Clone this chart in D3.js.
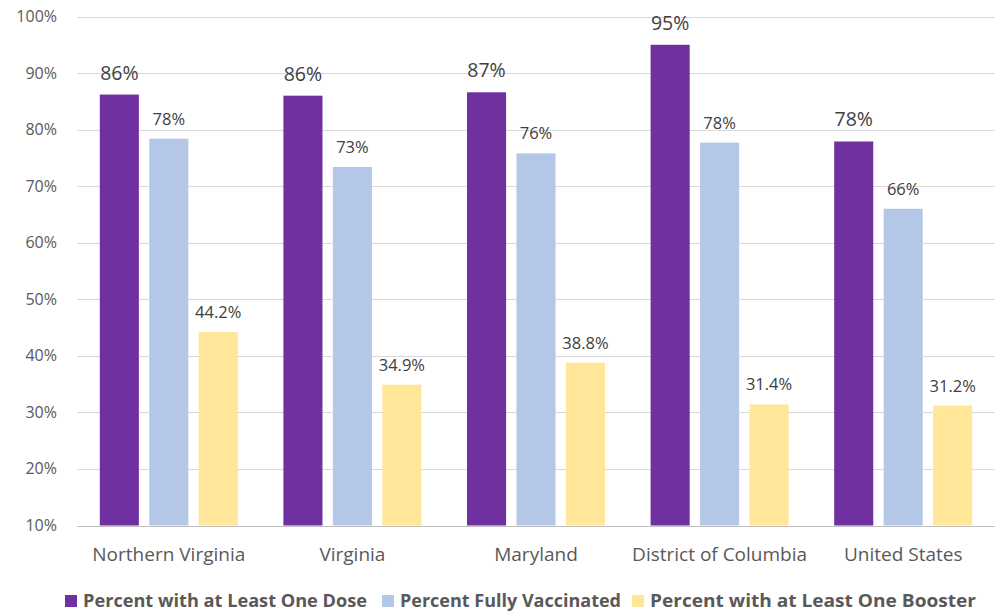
<!DOCTYPE html>
<html>
<head>
<meta charset="utf-8">
<script src="https://cdn.jsdelivr.net/npm/d3@7"></script>
<style>
  body { margin: 0; background: #fff; }
  text { font-family: "Open Sans", sans-serif; fill: #595959; }
</style>
</head>
<body>
<div id="chart"></div>
<script>
'use strict';

const categories = ['Northern Virginia', 'Virginia', 'Maryland', 'District of Columbia', 'United States'];
const seriesNames = ['Percent with at Least One Dose', 'Percent Fully Vaccinated', 'Percent with at Least One Booster'];
const oneDose = [86.2, 86.0, 86.6, 95.0, 77.9];
const fullyVax = [78.4, 73.4, 75.8, 77.7, 66.0];
const booster = [44.2, 34.9, 38.8, 31.4, 31.2];
const oneDoseLabels = ['86%', '86%', '87%', '95%', '78%'];
const fullyVaxLabels = ['78%', '73%', '76%', '78%', '66%'];
const boosterLabels = ['44.2%', '34.9%', '38.8%', '31.4%', '31.2%'];
const yTicks = [10, 20, 30, 40, 50, 60, 70, 80, 90, 100];
const colors = ['#7030a0', '#b4c7e7', '#ffe699'];

const width = 1003, height = 614;
const margin = { top: 16.5, right: 8, bottom: 88.5, left: 77 };

const svg = d3.select('#chart').append('svg')
  .attr('width', width)
  .attr('height', height);

const x = d3.scaleBand()
  .domain(categories)
  .range([margin.left, width - margin.right]);

const y = d3.scaleLinear()
  .domain([10, 100])
  .range([height - margin.bottom, margin.top]);

const sub = d3.scaleBand()
  .domain(d3.range(3))
  .range([-69, 69])
  .paddingInner(0.21);

// gridlines
svg.append('g').selectAll('line')
  .data(yTicks)
  .enter().append('line')
    .attr('x1', margin.left)
    .attr('x2', width - margin.right)
    .attr('y1', d => Math.round(y(d)) + 0.5)
    .attr('y2', d => Math.round(y(d)) + 0.5)
    .attr('stroke', d => d === 10 ? '#bfbfbf' : '#d9d9d9')
    .attr('stroke-width', 1);

// y tick labels
svg.append('g').selectAll('text')
  .data(yTicks)
  .enter().append('text')
    .attr('x', 57)
    .attr('y', d => y(d) + 5.5)
    .attr('text-anchor', 'end')
    .style('font-size', '16px')
    .text(d => d + '%');

const series = [
  { values: oneDose, labels: oneDoseLabels, size: '19.5px' },
  { values: fullyVax, labels: fullyVaxLabels, size: '16.5px' },
  { values: booster, labels: boosterLabels, size: '16.5px' }
];

series.forEach(function (s, si) {
  const g = svg.append('g');
  const cx = c => x(c) + x.bandwidth() / 2 + sub(si);
  g.selectAll('rect')
    .data(categories)
    .enter().append('rect')
      .attr('x', c => cx(c))
      .attr('width', sub.bandwidth())
      .attr('y', (c, i) => y(s.values[i]))
      .attr('height', (c, i) => y(10) - y(s.values[i]))
      .attr('fill', colors[si]);
  g.selectAll('text')
    .data(categories)
    .enter().append('text')
      .attr('x', c => cx(c) + sub.bandwidth() / 2)
      .attr('y', (c, i) => y(s.values[i]) - (si === 0 ? 15 : 14))
      .attr('text-anchor', 'middle')
      .style('font-size', s.size)
      .style('fill', '#404040')
      .text((c, i) => s.labels[i]);
});

// category labels
svg.append('g').selectAll('text')
  .data(categories)
  .enter().append('text')
    .attr('x', c => x(c) + x.bandwidth() / 2)
    .attr('y', 561)
    .attr('text-anchor', 'middle')
    .style('font-size', '19px')
    .text(c => c);

// legend
const legendX = [65, 382, 632];
const legendW = [284, 221, 326];
const lg = svg.append('g');
seriesNames.forEach(function (name, i) {
  lg.append('rect')
    .attr('x', legendX[i])
    .attr('y', 595)
    .attr('width', 12)
    .attr('height', 12)
    .attr('fill', colors[i]);
  lg.append('text')
    .attr('x', legendX[i] + 18)
    .attr('y', 607)
    .attr('textLength', legendW[i])
    .attr('lengthAdjust', 'spacingAndGlyphs')
    .style('font-size', '17px')
    .style('font-weight', 'bold')
    .text(name);
});
</script>
</body>
</html>
